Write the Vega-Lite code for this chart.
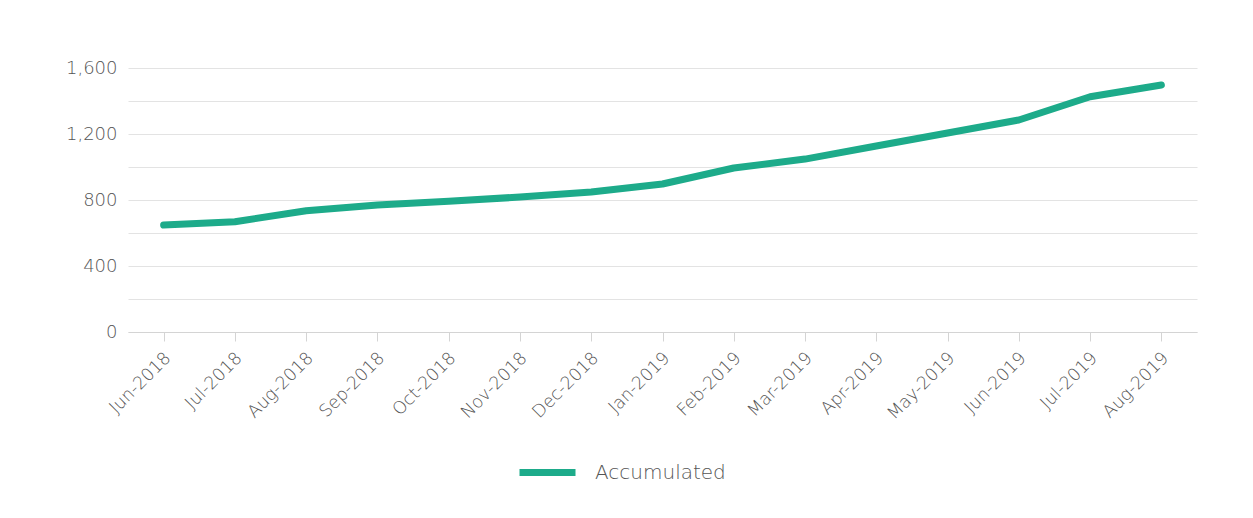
{
  "$schema": "https://vega.github.io/schema/vega-lite/v6.json",
  "autosize": "none",
  "width": 1069,
  "height": 264,
  "padding": {"left": 128, "top": 68, "right": 56, "bottom": 186},
  "background": "white",
  "config": {
    "view": {"stroke": null},
    "font": "DejaVu Sans",
    "axis": {"labelFont": "DejaVu Sans", "labelColor": "#555555", "labelFontWeight": 200},
    "legend": {"labelFont": "DejaVu Sans", "labelFontWeight": 200}
  },
  "data": {
    "values": [
      {"month": "Jun-2018", "value": 648, "series": "Accumulated"},
      {"month": "Jul-2018", "value": 668, "series": "Accumulated"},
      {"month": "Aug-2018", "value": 735, "series": "Accumulated"},
      {"month": "Sep-2018", "value": 770, "series": "Accumulated"},
      {"month": "Oct-2018", "value": 792, "series": "Accumulated"},
      {"month": "Nov-2018", "value": 818, "series": "Accumulated"},
      {"month": "Dec-2018", "value": 848, "series": "Accumulated"},
      {"month": "Jan-2019", "value": 897, "series": "Accumulated"},
      {"month": "Feb-2019", "value": 994, "series": "Accumulated"},
      {"month": "Mar-2019", "value": 1048, "series": "Accumulated"},
      {"month": "Apr-2019", "value": 1127, "series": "Accumulated"},
      {"month": "May-2019", "value": 1206, "series": "Accumulated"},
      {"month": "Jun-2019", "value": 1285, "series": "Accumulated"},
      {"month": "Jul-2019", "value": 1426, "series": "Accumulated"},
      {"month": "Aug-2019", "value": 1497, "series": "Accumulated"}
    ]
  },
  "mark": {"type": "line", "strokeWidth": 7, "strokeCap": "round", "strokeJoin": "round"},
  "encoding": {
    "x": {
      "field": "month",
      "type": "ordinal",
      "sort": null,
      "scale": {"type": "point", "padding": 0.5},
      "axis": {
        "title": null,
        "labelAngle": -45,
        "labelAlign": "right",
        "labelBaseline": "middle",
        "labelFontSize": 17.5,
        "labelPadding": 14,
        "labelOffset": 4,
        "domainColor": "#d4d4d4",
        "tickColor": "#d4d4d4",
        "tickSize": 9,
        "grid": false
      }
    },
    "y": {
      "field": "value",
      "type": "quantitative",
      "scale": {"domain": [0, 1600], "nice": false},
      "axis": {
        "title": null,
        "values": [0, 200, 400, 600, 800, 1000, 1200, 1400, 1600],
        "labelExpr": "datum.value % 400 == 0 ? format(datum.value, ',') : ''",
        "domain": false,
        "ticks": false,
        "labelPadding": 11,
        "labelFontSize": 18,
        "gridColor": "#e3e3e3",
        "gridWidth": 1
      }
    },
    "color": {
      "field": "series",
      "type": "nominal",
      "scale": {"range": ["#1dab8a"]},
      "legend": {
        "title": null,
        "orient": "none",
        "legendX": 388,
        "legendY": 373,
        "direction": "horizontal",
        "symbolType": "stroke",
        "symbolSize": 3136,
        "symbolStrokeWidth": 7,
        "labelFontSize": 20,
        "labelColor": "#555555",
        "labelOffset": 16
      }
    }
  }
}
